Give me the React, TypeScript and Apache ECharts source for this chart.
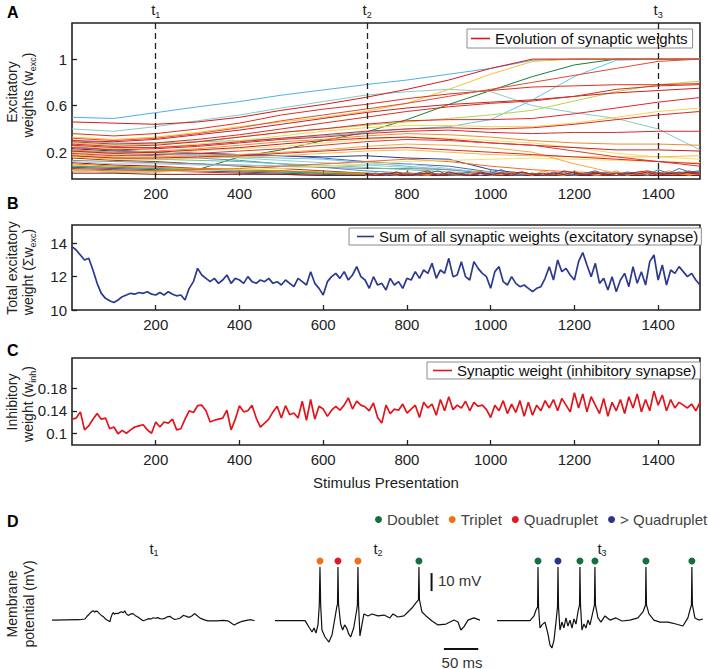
import React, { useEffect, useRef } from 'react';
import * as echarts from 'echarts';

const FONT = '"Liberation Sans", Arial, Helvetica, sans-serif';

// ---------- axis ticks ----------
const STIM_TICKS = [200, 400, 600, 800, 1000, 1200, 1400];
const EXC_TICKS = [0.2, 0.6, 1];
const SUM_TICKS = [10, 12, 14];
const INH_TICKS = [0.1, 0.14, 0.18];

// ---------- panel A: excitatory weights ----------
const EXC_X = [0, 100, 200, 300, 400, 500, 600, 700, 800, 900, 1000, 1100, 1200, 1300, 1400, 1500];
const EXC_WEIGHTS = [
  [0.04, 0.03, 0.03, 0.05, 0.16, 0.22, 0.30, 0.37, 0.48, 0.61, 0.73, 0.85, 0.95, 1.0, 1.0, 1.0],
  [0.25, 0.22, 0.20, 0.19, 0.18, 0.17, 0.15, 0.12, 0.10, 0.08, 0.03, 0.01, 0.01, 0.02, 0.01, 0.02],
  [0.23, 0.21, 0.20, 0.19, 0.18, 0.17, 0.16, 0.17, 0.15, 0.14, 0.05, 0.01, 0.01, 0.02, 0.02, 0.03],
  [0.22, 0.20, 0.19, 0.18, 0.16, 0.15, 0.14, 0.11, 0.08, 0.05, 0.02, 0.01, 0.0, 0.0, 0.0, 0.0],
  [0.21, 0.19, 0.18, 0.17, 0.15, 0.13, 0.11, 0.09, 0.07, 0.05, 0.03, 0.01, 0.0, 0.0, 0.0, 0.0],
  [0.20, 0.18, 0.17, 0.15, 0.13, 0.10, 0.07, 0.04, 0.02, 0.01, 0.0, 0.0, 0.0, 0.0, 0.0, 0.0],
  [0.15, 0.13, 0.12, 0.10, 0.08, 0.06, 0.04, 0.02, 0.01, 0.0, 0.0, 0.0, 0.0, 0.0, 0.0, 0.0],
  [0.13, 0.12, 0.11, 0.10, 0.09, 0.08, 0.07, 0.06, 0.06, 0.05, 0.02, 0.01, 0.0, 0.0, 0.0, 0.0],
  [0.11, 0.09, 0.08, 0.06, 0.05, 0.04, 0.02, 0.01, 0.0, 0.0, 0.0, 0.0, 0.0, 0.0, 0.0, 0.0],
  [0.10, 0.08, 0.07, 0.06, 0.05, 0.04, 0.03, 0.02, 0.01, 0.0, 0.0, 0.0, 0.0, 0.0, 0.0, 0.0],
  [0.09, 0.07, 0.06, 0.05, 0.04, 0.03, 0.02, 0.01, 0.0, 0.0, 0.0, 0.0, 0.0, 0.0, 0.0, 0.0],
  [0.08, 0.07, 0.06, 0.05, 0.04, 0.03, 0.02, 0.01, 0.0, 0.0, 0.0, 0.0, 0.0, 0.0, 0.0, 0.0],
  [0.07, 0.06, 0.05, 0.04, 0.03, 0.02, 0.01, 0.0, 0.0, 0.0, 0.0, 0.0, 0.0, 0.0, 0.0, 0.0],
  [0.06, 0.05, 0.04, 0.03, 0.02, 0.01, 0.0, 0.0, 0.0, 0.0, 0.0, 0.0, 0.0, 0.0, 0.0, 0.0],
  [0.17, 0.15, 0.14, 0.13, 0.12, 0.10, 0.09, 0.07, 0.05, 0.03, 0.02, 0.01, 0.0, 0.0, 0.0, 0.0],
  [0.12, 0.10, 0.10, 0.09, 0.09, 0.08, 0.08, 0.09, 0.10, 0.06, 0.02, 0.0, 0.0, 0.0, 0.0, 0.0],
  [0.05, 0.04, 0.04, 0.05, 0.06, 0.08, 0.10, 0.12, 0.14, 0.12, 0.08, 0.05, 0.03, 0.02, 0.01, 0.01],
  [0.04, 0.03, 0.03, 0.04, 0.05, 0.06, 0.08, 0.10, 0.12, 0.13, 0.14, 0.15, 0.14, 0.13, 0.12, 0.11],
  [0.02, 0.02, 0.01, 0.01, 0.01, 0.01, 0.0, 0.0, 0.0, 0.0, 0.0, 0.0, 0.0, 0.0, 0.0, 0.0],
  [0.50, 0.49, 0.54, 0.59, 0.635, 0.69, 0.735, 0.78, 0.82, 0.87, 0.92, 0.99, 1.0, 1.0, 1.0, 1.0],
  [0.40, 0.38, 0.42, 0.47, 0.52, 0.58, 0.635, 0.69, 0.72, 0.74, 0.72, 0.60, 0.54, 0.49, 0.40, 0.22],
  [0.30, 0.28, 0.28, 0.29, 0.30, 0.32, 0.34, 0.37, 0.40, 0.42, 0.48, 0.65, 0.85, 0.99, 1.0, 1.0],
  [0.33, 0.31, 0.33, 0.37, 0.42, 0.46, 0.50, 0.55, 0.62, 0.74, 0.87, 0.98, 1.0, 1.0, 1.0, 1.0],
  [0.28, 0.26, 0.27, 0.29, 0.33, 0.37, 0.40, 0.43, 0.46, 0.49, 0.52, 0.56, 0.64, 0.72, 0.78, 0.81],
  [0.25, 0.23, 0.24, 0.27, 0.30, 0.34, 0.38, 0.41, 0.43, 0.43, 0.42, 0.42, 0.45, 0.50, 0.55, 0.58],
  [0.22, 0.20, 0.21, 0.23, 0.26, 0.29, 0.31, 0.34, 0.36, 0.35, 0.33, 0.30, 0.28, 0.27, 0.27, 0.26],
  [0.20, 0.18, 0.19, 0.21, 0.23, 0.25, 0.28, 0.31, 0.33, 0.32, 0.30, 0.28, 0.24, 0.19, 0.16, 0.14],
  [0.18, 0.16, 0.16, 0.17, 0.18, 0.20, 0.22, 0.25, 0.27, 0.26, 0.24, 0.20, 0.10, 0.02, 0.01, 0.02],
  [0.16, 0.14, 0.14, 0.15, 0.16, 0.17, 0.19, 0.21, 0.22, 0.20, 0.18, 0.17, 0.16, 0.16, 0.16, 0.17],
  [0.46, 0.45, 0.44, 0.46, 0.50, 0.56, 0.61, 0.67, 0.74, 0.82, 0.92, 1.0, 1.0, 1.0, 1.0, 1.0],
  [0.36, 0.34, 0.36, 0.40, 0.45, 0.52, 0.57, 0.61, 0.66, 0.70, 0.73, 0.76, 0.77, 0.78, 0.78, 0.79],
  [0.30, 0.29, 0.31, 0.35, 0.39, 0.44, 0.49, 0.54, 0.58, 0.61, 0.63, 0.65, 0.68, 0.71, 0.73, 0.75],
  [0.27, 0.25, 0.26, 0.29, 0.33, 0.37, 0.40, 0.44, 0.47, 0.48, 0.48, 0.49, 0.53, 0.58, 0.63, 0.67],
  [0.24, 0.22, 0.23, 0.25, 0.28, 0.31, 0.33, 0.36, 0.38, 0.39, 0.37, 0.36, 0.37, 0.37, 0.38, 0.38],
  [0.21, 0.19, 0.20, 0.22, 0.24, 0.27, 0.30, 0.32, 0.33, 0.31, 0.28, 0.26, 0.24, 0.22, 0.22, 0.21],
  [0.19, 0.17, 0.18, 0.19, 0.21, 0.23, 0.26, 0.29, 0.31, 0.30, 0.28, 0.26, 0.21, 0.16, 0.12, 0.08],
  [0.17, 0.15, 0.15, 0.16, 0.17, 0.19, 0.21, 0.23, 0.24, 0.22, 0.20, 0.18, 0.16, 0.14, 0.12, 0.10],
  [0.29, 0.27, 0.28, 0.31, 0.35, 0.40, 0.45, 0.50, 0.55, 0.59, 0.62, 0.64, 0.68, 0.74, 0.77, 0.78],
  [0.32, 0.30, 0.32, 0.36, 0.41, 0.47, 0.52, 0.57, 0.62, 0.68, 0.74, 0.80, 0.86, 0.92, 0.98, 1.0],
  [0.26, 0.24, 0.24, 0.26, 0.29, 0.32, 0.35, 0.38, 0.40, 0.41, 0.40, 0.41, 0.44, 0.48, 0.52, 0.55],
];
const EXC_COLORS = [
  '#16803a', '#3b6fb6', '#2b3d91', '#74bde6', '#8dd3c7', '#4a90c9', '#8b4513', '#8a8a8a',
  '#a31515', '#e8811f', '#f2d03b', '#4f9a3a', '#1f5fa8', '#cf2a27', '#66c2a5', '#9ecae1',
  '#ef6c2a', '#f7e06b', '#8b1a1a', '#4fb0e2', '#86cbc2', '#5fc8e6', '#f5c232', '#b5d44a',
  '#f8d44c', '#f08c2c', '#f3dd6a', '#f7a93a', '#f1c040', '#d7191c', '#e0301e', '#cc1f24',
  '#e4262a', '#d62a2a', '#c81e24', '#e23a2a', '#d8262c', '#d7301f', '#e34a33', '#d62a2a',
];
const LEGEND_LINE_INDEX = 29;

const NOISE_X = [700, 725, 750, 775, 800, 825, 850, 875, 900, 925, 950, 975, 1000, 1025, 1050, 1075, 1100,
  1125, 1150, 1175, 1200, 1225, 1250, 1275, 1300, 1325, 1350, 1375, 1400, 1425, 1450, 1475, 1500];
const NOISE_WEIGHTS = [
  [0.01, 0.02, 0.0, 0.03, 0.01, 0.0, 0.02, 0.04, 0.0, 0.01, 0.03, 0.0, 0.02, 0.05, 0.01, 0.0, 0.02, 0.0, 0.03, 0.01, 0.0, 0.02, 0.04, 0.01, 0.0, 0.03, 0.02, 0.0, 0.05, 0.02, 0.06, 0.03, 0.04],
  [0.0, 0.01, 0.02, 0.0, 0.03, 0.01, 0.0, 0.02, 0.01, 0.0, 0.02, 0.04, 0.0, 0.01, 0.03, 0.02, 0.0, 0.04, 0.01, 0.0, 0.03, 0.02, 0.0, 0.01, 0.04, 0.0, 0.02, 0.03, 0.01, 0.04, 0.02, 0.0, 0.03],
  [0.02, 0.0, 0.01, 0.03, 0.0, 0.02, 0.04, 0.0, 0.01, 0.02, 0.0, 0.03, 0.01, 0.0, 0.02, 0.03, 0.01, 0.02, 0.0, 0.04, 0.02, 0.01, 0.03, 0.0, 0.02, 0.01, 0.03, 0.04, 0.02, 0.01, 0.03, 0.02, 0.01],
  [0.0, 0.02, 0.01, 0.0, 0.02, 0.0, 0.03, 0.01, 0.02, 0.0, 0.01, 0.02, 0.0, 0.03, 0.0, 0.01, 0.02, 0.0, 0.01, 0.03, 0.0, 0.02, 0.01, 0.03, 0.0, 0.01, 0.02, 0.0, 0.03, 0.01, 0.02, 0.04, 0.01],
  [0.01, 0.0, 0.02, 0.01, 0.0, 0.01, 0.02, 0.0, 0.03, 0.01, 0.0, 0.02, 0.01, 0.02, 0.0, 0.03, 0.01, 0.0, 0.02, 0.01, 0.03, 0.0, 0.02, 0.01, 0.0, 0.02, 0.01, 0.03, 0.0, 0.02, 0.01, 0.03, 0.02],
];
const NOISE_COLORS = ['#3a6fb0', '#f08a2b', '#8c3b1c', '#777777', '#b2182b'];

const T_MARKS = [200, 705, 1400];
const T_NAMES = ['1', '2', '3'];

// ---------- panel B: sum of excitatory weights (every 10 presentations) ----------
const STEP = 10;
const SUM_EXC = [
  13.8, 13.6, 13.3, 13.0, 13.1, 12.4, 11.6, 11.0, 10.7, 10.55, 10.45,
  10.6, 10.8, 10.9, 11.0, 10.95, 11.05, 11.0, 11.1, 10.95, 10.9,
  11.05, 10.9, 11.1, 10.95, 10.85, 10.9, 10.6, 11.3, 11.7, 12.5,
  12.1, 11.9, 11.7, 11.9, 11.6, 11.8, 12.1, 11.6, 11.9, 11.8,
  11.6, 12.0, 11.7, 11.6, 11.8, 11.7, 11.9, 11.6, 11.7, 11.5,
  11.8, 11.6, 11.4, 11.9, 11.7, 11.5, 12.3, 11.6, 11.3, 10.9,
  11.7, 12.0, 12.2, 11.9, 12.3, 11.8, 12.1, 12.6, 12.0, 11.8,
  11.3, 12.0, 11.5, 11.6, 11.2, 11.9, 11.5, 11.7, 11.3, 11.9,
  11.8, 12.3, 11.9, 12.4, 12.2, 12.8, 11.9, 12.4, 12.2, 13.1,
  12.0, 12.1, 12.9, 12.0, 11.8, 12.9, 12.5, 12.2, 12.0, 11.3,
  12.3, 12.6, 11.7, 11.5, 12.0, 11.6, 11.4, 11.5, 11.3, 11.1,
  11.3, 11.4, 11.9, 12.6, 11.8, 13.0, 12.3, 12.5, 12.1, 11.8,
  12.9, 13.45, 12.7, 12.0, 12.8, 11.6, 11.9, 11.2, 12.0, 11.1,
  11.8, 12.2, 11.4, 12.6, 11.6, 12.3, 11.5, 12.9, 13.3, 11.8,
  12.7, 11.5, 12.4, 12.2, 12.6, 12.3, 12.0, 12.2, 11.8, 11.5,
];

// ---------- panel C: inhibitory weight ----------
const INH_W = [
  0.125, 0.127, 0.138, 0.106, 0.113, 0.125, 0.135, 0.125, 0.127, 0.108, 0.111,
  0.099, 0.105, 0.100, 0.106, 0.111, 0.113, 0.115, 0.106, 0.100, 0.120,
  0.111, 0.120, 0.118, 0.125, 0.106, 0.108, 0.125, 0.140, 0.137, 0.149,
  0.150, 0.140, 0.120, 0.123, 0.125, 0.127, 0.141, 0.106, 0.125, 0.149,
  0.138, 0.140, 0.150, 0.127, 0.111, 0.118, 0.125, 0.138, 0.148, 0.127,
  0.149, 0.133, 0.136, 0.127, 0.157, 0.123, 0.160, 0.125, 0.148, 0.143,
  0.130, 0.141, 0.148, 0.141, 0.150, 0.163, 0.143, 0.157, 0.150, 0.147,
  0.140, 0.154, 0.128, 0.118, 0.150, 0.135, 0.143, 0.141, 0.152, 0.136,
  0.143, 0.150, 0.128, 0.155, 0.145, 0.152, 0.132, 0.160, 0.140, 0.165,
  0.142, 0.150, 0.145, 0.157, 0.140, 0.155, 0.148, 0.150, 0.142, 0.128,
  0.150, 0.140, 0.158, 0.135, 0.152, 0.137, 0.158, 0.130, 0.155, 0.132,
  0.150, 0.140, 0.158, 0.145, 0.160, 0.140, 0.162, 0.150, 0.138, 0.172,
  0.145, 0.170, 0.138, 0.165, 0.150, 0.135, 0.162, 0.130, 0.155, 0.140,
  0.160, 0.135, 0.165, 0.145, 0.170, 0.138, 0.160, 0.140, 0.175, 0.150,
  0.168, 0.140, 0.160, 0.145, 0.155, 0.150, 0.145, 0.152, 0.140, 0.155,
];

// ---------- panel D: membrane potential traces [ms, mV] ----------
const TRACE_T1 = [
  [0, -65.6], [20, -65.5], [40, -65.4], [48, -65.0], [51, -63.5], [53, -62.8], [56, -61.5], [58, -60.8],
  [60, -60.4], [62, -61.2], [64, -60.6], [66, -60.8], [69, -62.0], [72, -63.0], [75, -63.8], [78, -65.0],
  [80, -65.6], [82, -66.0], [84.4, -66.5], [86, -64.0], [88, -62.0], [89.2, -61.5], [91, -62.4], [93, -61.8],
  [96.4, -62.0], [99, -61.3], [101.3, -61.0], [104, -61.5], [106, -60.4], [108, -62.0], [111, -63.0],
  [114, -62.3], [118, -62.0], [121, -63.0], [125.6, -64.0], [129, -65.0], [132.9, -66.0], [137, -65.4],
  [141, -64.8], [144, -65.0], [147.4, -64.3], [151, -64.6], [154, -64.2], [157, -64.8], [161, -65.0],
  [165, -64.5], [168, -63.8], [171.8, -63.5], [175, -64.5], [178.6, -65.3], [182, -65.0], [186, -64.6],
  [189, -63.8], [191, -63.0], [193, -63.2], [196, -63.5], [198, -64.0], [200.4, -64.0], [204, -63.2],
  [207.6, -62.0], [211, -63.0], [214, -64.0], [217.4, -64.8], [222, -65.5], [227, -66.0], [240, -66.0],
  [250, -65.8], [256, -66.0], [260, -67.0], [263, -67.8], [265.7, -68.3], [268, -67.8], [272, -67.0],
  [275.4, -66.5], [280, -66.0], [285, -65.6], [290, -65.4], [295, -66.0],
];
const TRACE_T2 = [
  [0, -65.9], [43.7, -65.9], [47.6, -68.3], [53.9, -72.2], [56.8, -70], [59.7, -72.8], [62.6, -68.3],
  [64.5, -57.2], [65.5, -36.1], [66.5, -57.2], [68.4, -71.1], [72.8, -75], [78.6, -77.8], [83, -73.9],
  [87.3, -64.4], [90.2, -57.8], [91, -57], [91.7, -36.1], [92.5, -56.7], [95.6, -67.8], [98.5, -71.1],
  [101.4, -68.3], [104.4, -70], [107.3, -73.3], [110.2, -75], [114.6, -70], [119, -60], [120, -57.2],
  [120.8, -36.1], [121.7, -57.2], [123.7, -74.4], [126.6, -68.3], [129.5, -62.2], [135.4, -63.3],
  [141.2, -62.2], [149.9, -63.3], [158.7, -62.8], [167.4, -64.4], [171.8, -62.2], [179, -63.9],
  [187.8, -63.3], [193.6, -61.1], [199.4, -58.9], [205.2, -56.1], [208.9, -54.4], [209.6, -36.1],
  [210.4, -54.4], [214, -61.1], [219.9, -63.3], [228.7, -66.1], [237.3, -68.3], [249, -67.8],
  [260.6, -65.6], [266.5, -66.7], [270.7, -71.1], [275.1, -69.4], [281, -65.6], [289.7, -64.4], [298.4, -65.6],
];
const TRACE_T3 = [
  [0, -65.9], [48, -65.9], [53.9, -63.3], [56.8, -60], [59.1, -58.3], [59.7, -36.1], [60.5, -58.3],
  [62.6, -70], [65.5, -68.3], [69.9, -66.7], [74.2, -73.3], [77.1, -79.4], [80, -81.1], [83, -76.7],
  [85.9, -66.7], [88.1, -58.3], [88.8, -36.1], [89.6, -58.3], [91.7, -71.1], [94.6, -66.7], [97.5, -70],
  [100.4, -64.4], [103.3, -68.9], [106.3, -65.6], [109.2, -70], [112.1, -65], [115, -67.8], [117.9, -61.1],
  [120.2, -57.2], [120.8, -36.1], [121.6, -57.2], [123.7, -71.1], [126.6, -67.8], [129.5, -70],
  [132.4, -65.6], [135.4, -68.3], [139.7, -61.1], [141.9, -57.2], [142.6, -36.1], [143.4, -57.2],
  [147, -64.4], [151.4, -66.7], [157.2, -63.3], [164.5, -65.6], [173.2, -64.4], [181.9, -66.1],
  [193.6, -65.6], [205.2, -64.4], [212.5, -61.1], [216.3, -57.2], [216.9, -36.1], [217.7, -57.2],
  [221.3, -62.2], [228.5, -65.6], [237.3, -66.7], [248.9, -66.7], [260.6, -67.8], [270.7, -68.9],
  [278, -64.4], [281, -60], [283.2, -57.2], [283.8, -36.1], [284.6, -57.2], [288.2, -64.4],
  [294, -65.6], [299.9, -65],
];
const SPIKE_MARK_MV = -32.8;
const SPIKES_T2 = [[65.5, 'Triplet'], [91.7, 'Quadruplet'], [120.8, 'Triplet'], [209.6, 'Doublet']];
const SPIKES_T3 = [[59.7, 'Doublet'], [88.8, '> Quadruplet'], [120.8, 'Doublet'], [142.6, 'Doublet'], [216.9, 'Doublet'], [283.8, 'Doublet']];
const BURST_TYPES = ['Doublet', 'Triplet', 'Quadruplet', '> Quadruplet'];
const BURST_COLORS = ['#16703e', '#f07019', '#de1a24', '#27358c'];

const SCALE_10MV = [[228, -39.5], [228, -49.5]];
const SCALE_50MS = [[246, -81.7], [296, -81.7]];

const LEG_A = 'Evolution of synaptic weights';
const LEG_B = 'Sum of all synaptic weights (excitatory synapse)';
const LEG_C = 'Synaptic weight (inhibitory synapse)';

const DARK = '#222';

const subRich = (size: number) => ({
  b: { fontSize: size, color: DARK, fill: DARK, fontFamily: FONT, verticalAlign: 'top', lineHeight: size + 2 },
  s: { fontSize: 9, color: DARK, fill: DARK, fontFamily: FONT, verticalAlign: 'bottom', lineHeight: 9 },
});

const plainNum = (v: number) => String(v);

function frameX(gridIndex: number, extra: any = {}) {
  return {
    type: 'value', gridIndex, min: 0, max: 1500,
    axisLine: { show: false }, splitLine: { show: false },
    axisTick: { show: true, inside: true, length: 5, customValues: STIM_TICKS, lineStyle: { color: DARK, width: 1.3 } },
    axisLabel: { customValues: STIM_TICKS, formatter: plainNum, fontSize: 15, color: DARK, margin: 7, fontFamily: FONT },
    ...extra,
  };
}
function frameY(gridIndex: number, min: number, max: number, ticks: number[]) {
  return {
    type: 'value', gridIndex, min, max,
    axisLine: { show: false }, splitLine: { show: false },
    axisTick: { show: true, inside: true, length: 5, customValues: ticks, lineStyle: { color: DARK, width: 1.3 } },
    axisLabel: { customValues: ticks, formatter: plainNum, fontSize: 15, color: DARK, margin: 5, fontFamily: FONT },
  };
}
function hiddenX(gridIndex: number) {
  return { type: 'value', gridIndex, min: 0, max: 300, show: false, splitLine: { show: false } };
}
function hiddenY(gridIndex: number) {
  return { type: 'value', gridIndex, min: -90, max: -30, show: false, splitLine: { show: false } };
}

function boxLegend(name: string, left: number, top: number, padding: number[], itemWidth: number) {
  return {
    data: [name], left, top, orient: 'horizontal', selectedMode: false,
    icon: 'rect', itemWidth, itemHeight: 1.6,
    borderColor: '#8c8c8c', borderWidth: 1, backgroundColor: '#fff', padding,
    textStyle: { fontSize: 15, color: '#111', fontFamily: FONT },
  };
}

function vText(x: number, y: number, text: string) {
  return {
    type: 'text', x, y, rotation: Math.PI / 2,
    style: { text, rich: subRich(14), align: 'center', verticalAlign: 'middle', fontSize: 14, fill: DARK, fontFamily: FONT },
  };
}
function letter(x: number, y: number, t: string) {
  return { type: 'text', x, y, style: { text: t, fontSize: 16, fontWeight: 'bold', fill: '#000', fontFamily: FONT, verticalAlign: 'top' } };
}
function tLabel(x: number, y: number, n: string) {
  return { type: 'text', x, y, style: { text: `{b|t}{s|${n}}`, rich: subRich(15), align: 'center', verticalAlign: 'middle' } };
}

export default function App() {
  const ref = useRef<HTMLDivElement>(null);
  useEffect(() => {
    if (!ref.current) return;
    const chart = echarts.init(ref.current, null, { renderer: 'svg' });

    const series: any[] = [];
    EXC_WEIGHTS.forEach((vals, i) => {
      series.push({
        type: 'line', xAxisIndex: 0, yAxisIndex: 0, name: i === LEGEND_LINE_INDEX ? LEG_A : `w${i}`,
        data: vals.map((v, j) => [EXC_X[j], v]), showSymbol: false, silent: true,
        color: EXC_COLORS[i], lineStyle: { width: 1, color: EXC_COLORS[i] },
      });
    });
    NOISE_WEIGHTS.forEach((vals, i) => {
      series.push({
        type: 'line', xAxisIndex: 0, yAxisIndex: 0, name: `n${i}`,
        data: vals.map((v, j) => [NOISE_X[j], v]), showSymbol: false, silent: true,
        color: NOISE_COLORS[i], lineStyle: { width: 1, color: NOISE_COLORS[i] },
      });
    });
    // dashed time markers
    series.push({
      type: 'line', xAxisIndex: 0, yAxisIndex: 0, name: 'markers', data: [[0, -1]], showSymbol: false, silent: true,
      lineStyle: { width: 0 },
      markLine: {
        silent: true, symbol: ['none', 'none'], animation: false,
        lineStyle: { color: DARK, type: [6, 4], width: 1.3 },
        data: T_MARKS.map((x, i) => ({
          xAxis: x,
          label: { show: true, position: 'end', distance: 4, formatter: `{b|t}{s|${T_NAMES[i]}}`, rich: subRich(15) },
        })),
      },
    });
    series.push({
      type: 'line', xAxisIndex: 1, yAxisIndex: 1, name: LEG_B,
      data: SUM_EXC.map((v, j) => [j * STEP, v]), showSymbol: false, silent: true,
      color: '#2b3990', lineStyle: { width: 1.7, color: '#2b3990' },
    });
    series.push({
      type: 'line', xAxisIndex: 2, yAxisIndex: 2, name: LEG_C,
      data: INH_W.map((v, j) => [j * STEP, v]), showSymbol: false, silent: true,
      color: '#e2141b', lineStyle: { width: 1.7, color: '#e2141b' },
    });
    [TRACE_T1, TRACE_T2, TRACE_T3].forEach((tr, i) => {
      series.push({
        type: 'line', xAxisIndex: 3 + i, yAxisIndex: 3 + i, name: `trace${i}`,
        data: tr, showSymbol: false, silent: true, color: '#111', lineStyle: { width: 1.2, color: '#111' },
      });
    });
    [SCALE_10MV, SCALE_50MS].forEach((d, i) => {
      series.push({
        type: 'line', xAxisIndex: 4, yAxisIndex: 4, name: `scale${i}`, data: d, showSymbol: false, silent: true,
        color: '#111', lineStyle: { width: 2, color: '#111' },
      });
    });
    [[SPIKES_T2, 4], [SPIKES_T3, 5]].forEach(([spikes, ax]: any) => {
      BURST_TYPES.forEach((bt, k) => {
        series.push({
          type: 'scatter', xAxisIndex: ax, yAxisIndex: ax, name: bt, symbol: 'circle', symbolSize: 7,
          color: BURST_COLORS[k], itemStyle: { color: BURST_COLORS[k], opacity: 1 }, silent: true,
          data: spikes.filter((s: any) => s[1] === bt).map((s: any) => [s[0], SPIKE_MARK_MV]),
        });
      });
    });

    const frame = { show: true, borderColor: DARK, borderWidth: 1.6, backgroundColor: 'transparent' };
    const option: any = {
      animation: false,
      textStyle: { fontFamily: FONT },
      grid: [
        { left: 72, top: 23, width: 628, height: 156, ...frame },
        { left: 72, top: 225, width: 628, height: 85, ...frame },
        { left: 72, top: 358, width: 628, height: 87, ...frame },
        { left: 52, top: 556, width: 206, height: 108 },
        { left: 275, top: 556, width: 206, height: 108 },
        { left: 497, top: 556, width: 206, height: 108 },
      ],
      xAxis: [
        frameX(0), frameX(1),
        frameX(2, { name: 'Stimulus Presentation', nameLocation: 'middle', nameGap: 30, nameTextStyle: { fontSize: 15, color: DARK, fontFamily: FONT } }),
        hiddenX(3), hiddenX(4), hiddenX(5),
      ],
      yAxis: [
        frameY(0, -0.03, 1.31, EXC_TICKS),
        frameY(1, 10, 15.1, SUM_TICKS),
        frameY(2, 0.079, 0.234, INH_TICKS),
        hiddenY(3), hiddenY(4), hiddenY(5),
      ],
      legend: [
        boxLegend(LEG_A, 467, 29, [2, 5, 2, 4], 19),
        boxLegend(LEG_B, 349, 228, [1, 3, 1, 8], 17),
        boxLegend(LEG_C, 427, 362, [1, 4, 1, 6], 19),
        {
          data: BURST_TYPES, left: 375, top: 512, selectedMode: false, icon: 'circle',
          itemWidth: 7, itemHeight: 7, itemGap: 10, padding: 0,
          itemStyle: { opacity: 1 },
          textStyle: { fontSize: 15, color: '#444', fontFamily: FONT },
        },
      ],
      graphic: [
        letter(7, 4, 'A'), letter(7, 195, 'B'), letter(7, 342, 'C'), letter(7, 513, 'D'),
        vText(12, 92, 'Excitatory'), vText(29, 95, '{b|weights (w}{s|exc}{b|)}'),
        vText(12, 268, 'Total excitatory'), vText(29, 272, '{b|weight (Σw}{s|exc}{b|)}'),
        vText(12, 402, 'Inhibitory'), vText(29, 404, '{b|weight (w}{s|inh}{b|)}'),
        vText(12, 604, 'Membrane'), vText(29, 604, 'potential (mV)'),
        tLabel(154, 549, '1'), tLabel(378, 549, '2'), tLabel(602, 549, '3'),
        { type: 'text', x: 438, y: 580, style: { text: '10 mV', fontSize: 15, fill: '#333', fontFamily: FONT, verticalAlign: 'middle' } },
        { type: 'text', x: 462, y: 662, style: { text: '50 ms', fontSize: 15, fill: '#333', fontFamily: FONT, align: 'center', verticalAlign: 'middle' } },
      ],
      series,
    };
    chart.setOption(option);
    return () => chart.dispose();
  }, []);
  return <div ref={ref} style={{ position: 'fixed', left: 0, top: 0, width: 708, height: 669, background: '#fff' }} />;
}
